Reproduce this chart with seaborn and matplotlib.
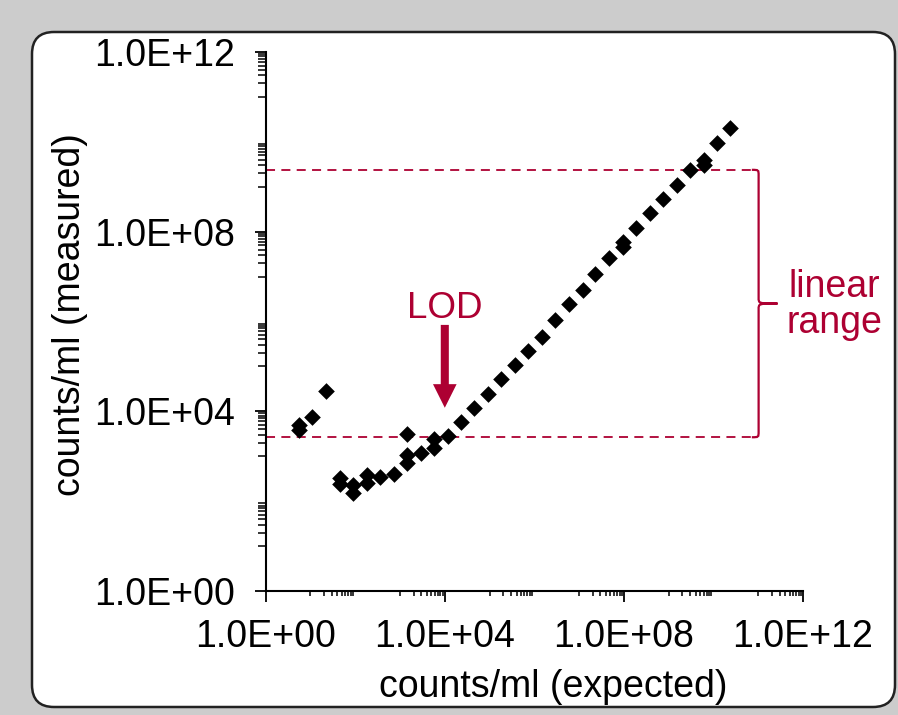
import numpy as np
import pandas as pd
import matplotlib
matplotlib.use("Agg")
import matplotlib.pyplot as plt
from matplotlib.patches import FancyBboxPatch, PathPatch, ArrowStyle
from matplotlib.path import Path
import matplotlib.ticker as mticker
import seaborn as sns

# ---- data ----
expected = [5.6, 5.6, 11, 22, 45, 45, 90, 90, 180, 180, 360, 720,
            1430, 1430, 1430, 2870, 5700, 5700, 11500, 23000, 46000, 92000,
            1.8e5, 3.7e5, 7.3e5, 1.5e6, 2.9e6, 5.9e6, 1.2e7, 2.3e7, 4.7e7,
            9.4e7, 9.4e7, 1.9e8, 3.8e8, 7.5e8, 1.5e9, 3.0e9, 6.0e9, 6.0e9,
            1.2e10, 2.4e10]
measured = [4980, 3850, 7620, 28500, 324, 242, 230, 155, 383, 258, 341, 403,
            3140, 1070, 698, 1200, 2390, 1510, 2830, 5720, 11700, 24400,
            51900, 1.08e5, 2.21e5, 4.47e5, 1.09e6, 2.47e6, 5.06e6, 1.15e7, 2.65e7,
            6.03e7, 4.67e7, 1.2e8, 2.66e8, 5.38e8, 1.1e9, 2.38e9, 3.97e9, 3.08e9,
            9.6e9, 2.02e10]
linear_low = 2650
linear_high = 2.38e9
lod_x = 1e4
major_ticks = [1e0, 1e4, 1e8, 1e12]
tick_labels = ["1.0E+00", "1.0E+04", "1.0E+08", "1.0E+12"]
minor_decades = [1, 3, 5, 7, 9, 11]
minor_mult = [1, 2, 3, 4, 5, 6, 7, 8, 9]

df = pd.DataFrame({"expected": expected, "measured": measured})

RED = "#AD0032"
GRAY = "#cccccc"

sns.set_theme(style="white")
plt.rcParams["font.family"] = ["Liberation Sans", "DejaVu Sans"]

W, H, DPI = 898, 715, 100
fig = plt.figure(figsize=(W / DPI, H / DPI), dpi=DPI)
fig.patch.set_facecolor(GRAY)

# rounded white panel
panel = FancyBboxPatch((32 / DPI, 8 / DPI), (895 - 32) / DPI, (707 - 32) / DPI,
                       boxstyle="round,pad=0,rounding_size=0.22",
                       transform=fig.dpi_scale_trans, facecolor="white",
                       edgecolor="#222222", linewidth=1.8, zorder=-5)
fig.patches.append(panel)

ax = fig.add_axes([265.7 / W, (H - 591) / H, (803 - 265.7) / W, (591 - 52) / H])
ax.set_zorder(1)
ax.set_facecolor("none")
ax.patch.set_alpha(0)

sns.scatterplot(data=df, x="expected", y="measured", ax=ax, marker="D",
                s=72, color="black", linewidth=0, zorder=3, legend=False)

ax.set_xscale("log")
ax.set_yscale("log")
ax.set_xlim(1e0, 1e12)
ax.set_ylim(1e0, 1e12)

minor_vals = [k * 10.0 ** d for d in minor_decades for k in minor_mult]
for axis in (ax.xaxis, ax.yaxis):
    axis.set_major_locator(mticker.FixedLocator(major_ticks))
    axis.set_major_formatter(mticker.FixedFormatter(tick_labels))
    axis.set_minor_locator(mticker.FixedLocator(minor_vals))
    axis.set_minor_formatter(mticker.NullFormatter())

ax.tick_params(axis="both", which="major", direction="out", length=8, width=1.3,
               color="black", labelsize=27, labelcolor="black")
ax.tick_params(axis="x", which="major", pad=12, bottom=True)
ax.tick_params(axis="y", which="major", pad=14, left=True)
ax.tick_params(axis="x", which="minor", direction="out", length=3.8, width=1.1,
               color="black", bottom=True)
ax.tick_params(axis="y", which="minor", direction="out", length=5.5, width=1.1,
               color="black", left=True)

for s in ("top", "right"):
    ax.spines[s].set_visible(False)
for s in ("left", "bottom"):
    ax.spines[s].set_color("black")
    ax.spines[s].set_linewidth(1.5)
ax.grid(False)

ax.set_xlabel("counts/ml (expected)", fontsize=27, color="black", va="center")
ax.xaxis.set_label_coords(0.5356, -0.178)
ax.set_ylabel("counts/ml (measured)", fontsize=27, color="black", va="center")
ax.yaxis.set_label_coords(-0.364, 0.512)

# dashed linear range limits
x_end = 7.2e10
ax.hlines([linear_low, linear_high], 1e0, x_end, colors=RED,
          linestyles=(0, (5, 3.5)), linewidth=1.3, zorder=2, clip_on=False)

# curly brace
bx = 1.02e11
tip_x = 2.7e11
ylo, yhi = linear_low, linear_high
ymid = 10 ** ((np.log10(ylo) + np.log10(yhi)) / 2)
def ly(v, dv):
    return 10 ** (np.log10(v) + dv)
c = 0.13
verts = [
    (x_end, yhi),
    (bx, yhi), (bx, yhi), (bx, ly(yhi, -c)),
    (bx, ly(ymid, c)),
    (bx, ymid), (bx, ymid), (tip_x, ymid),
    (bx, ymid), (bx, ymid), (bx, ly(ymid, -c)),
    (bx, ly(ylo, c)),
    (bx, ylo), (bx, ylo), (x_end, ylo),
]
codes = [Path.MOVETO,
         Path.CURVE4, Path.CURVE4, Path.CURVE4,
         Path.LINETO,
         Path.CURVE4, Path.CURVE4, Path.CURVE4,
         Path.CURVE4, Path.CURVE4, Path.CURVE4,
         Path.LINETO,
         Path.CURVE4, Path.CURVE4, Path.CURVE4]
brace = PathPatch(Path(verts, codes), facecolor="none", edgecolor=RED,
                  linewidth=1.6, transform=ax.transData, clip_on=False, zorder=2)
ax.add_patch(brace)

ax.text(1.0577, 0.5455, "linear", transform=ax.transAxes, ha="center",
        va="baseline", fontsize=27, color=RED)
ax.text(1.0577, 0.4787, "range", transform=ax.transAxes, ha="center",
        va="baseline", fontsize=27, color=RED)

# LOD arrow
ax.text(lod_x, 1.2e6, "LOD", ha="center", va="baseline", fontsize=26.5, color=RED)
ax.annotate("", xy=(lod_x, 1.2e4), xytext=(lod_x, 8.4e5),
            arrowprops=dict(arrowstyle=ArrowStyle.Simple(head_length=17,
                                                         head_width=17,
                                                         tail_width=5.8),
                            mutation_scale=1, facecolor=RED, edgecolor="none",
                            linewidth=0, shrinkA=0, shrinkB=0))

fig.savefig("out.png", dpi=DPI, facecolor=fig.get_facecolor())
